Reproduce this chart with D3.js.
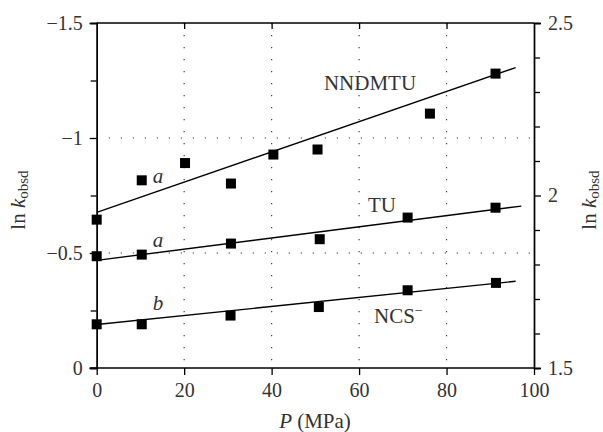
<!DOCTYPE html>
<html>
<head>
<meta charset="utf-8">
<script src="https://cdn.jsdelivr.net/npm/d3@7"></script>
<style>
  body { margin: 0; background: #fff; }
</style>
</head>
<body>
<div id="chart"></div>
<script>
// pressure (MPa) and ln k_obsd
const nndmtuP = [0, 10.3, 20.2, 30.7, 40.4, 50.5, 76.2, 91.2];
const nndmtuLnK = [-0.645, -0.816, -0.891, -0.802, -0.928, -0.95, -1.106, -1.28];
const tuP = [0, 10.3, 30.7, 51, 71.1, 91.2];
const tuLnK = [-0.486, -0.493, -0.541, -0.56, -0.654, -0.697];
const ncsP = [0, 10.3, 30.6, 50.8, 71.1, 91.3];
const ncsLnK = [-0.19, -0.19, -0.228, -0.265, -0.338, -0.37];

// fitted lines: [P start, P end], [lnk start, lnk end]
const nndmtuFitP = [0, 95.8], nndmtuFit = [-0.677, -1.306];
const tuFitP = [0, 97.1], tuFit = [-0.468, -0.704];
const ncsFitP = [0, 95.8], ncsFit = [-0.189, -0.377];

const xTicks = [0, 20, 40, 60, 80, 100];
const yLeftTicks = [0, -0.5, -1, -1.5];
const yLeftMinor = [-0.25, -0.75, -1.25];
const yRightTicks = [1.5, 2, 2.5];
const yRightMinor = [1.6, 1.7, 1.8, 1.9, 2.1, 2.2, 2.3, 2.4];
const xGrid = [20, 40, 60, 80];
const yGrid = [-0.5, -1];

const width = 603, height = 432;
const plotL = 96.7, plotR = 534, plotT = 23, plotB = 368;
const serif = '"Liberation Serif", "Times New Roman", serif';
const ink = "#333";

const svg = d3.select("#chart").append("svg")
    .attr("width", width)
    .attr("height", height);

const x = d3.scaleLinear().domain([0, 100]).range([plotL, plotR]);
const y = d3.scaleLinear().domain([0, -1.5]).range([plotB, plotT]);
const y2 = d3.scaleLinear().domain([1.5, 2.5]).range([plotB, plotT]);

// dotted grid
svg.append("g").selectAll("line").data(xGrid).enter().append("line")
    .attr("x1", d => x(d)).attr("x2", d => x(d))
    .attr("y1", plotT).attr("y2", plotB)
    .attr("stroke", "#444").attr("stroke-width", 1.2)
    .attr("stroke-dasharray", "1.3,10.7");
svg.append("g").selectAll("line").data(yGrid).enter().append("line")
    .attr("x1", plotL).attr("x2", plotR)
    .attr("y1", d => y(d)).attr("y2", d => y(d))
    .attr("stroke", "#444").attr("stroke-width", 1.2)
    .attr("stroke-dasharray", "1.3,10.7");

// axes
const fmt = d => d3.format("")(d).replace("-", "\u2212");

const bottomAxis = svg.append("g")
    .attr("transform", `translate(0,${plotB})`)
    .call(d3.axisBottom(x).tickValues(xTicks).tickSize(7).tickPadding(8).tickFormat(fmt));

const topAxis = svg.append("g")
    .attr("transform", `translate(0,${plotT})`)
    .call(d3.axisBottom(x).tickValues(xGrid).tickSize(6).tickFormat(""));

const leftAxis = svg.append("g")
    .attr("transform", `translate(${plotL},0)`)
    .call(d3.axisLeft(y).tickValues(yLeftTicks).tickSize(7).tickPadding(7).tickFormat(fmt));
svg.append("g")
    .attr("transform", `translate(${plotL},0)`)
    .call(d3.axisLeft(y).tickValues(yLeftMinor).tickSize(6).tickFormat(""));

const rightAxis = svg.append("g")
    .attr("transform", `translate(${plotR},0)`)
    .call(d3.axisRight(y2).tickValues(yRightTicks).tickSize(7).tickPadding(7).tickFormat(fmt));
svg.append("g")
    .attr("transform", `translate(${plotR},0)`)
    .call(d3.axisRight(y2).tickValues(yRightMinor).tickSize(6).tickFormat(""));

svg.selectAll(".domain").attr("stroke", "#000").attr("stroke-width", 1.4);
svg.selectAll(".tick line").attr("stroke", "#000").attr("stroke-width", 1.3);
svg.selectAll(".tick text")
    .style("font-family", serif).style("font-size", "20px").style("fill", ink);
topAxis.select(".domain").remove();
bottomAxis.select(".domain").attr("d", `M${plotL - 7},0H${plotR}`);
svg.append("line")
    .attr("x1", plotL).attr("x2", plotR).attr("y1", plotT).attr("y2", plotT)
    .attr("stroke", "#000").attr("stroke-width", 1.4);

// fitted lines
const line = d3.line().x(d => x(d[0])).y(d => y(d[1]));
[[nndmtuFitP, nndmtuFit], [tuFitP, tuFit], [ncsFitP, ncsFit]].forEach(f => {
    svg.append("path")
        .datum(d3.zip(f[0], f[1]))
        .attr("d", line)
        .attr("fill", "none")
        .attr("stroke", "#000")
        .attr("stroke-width", 1.4);
});

// points
const s = 10;
[[nndmtuP, nndmtuLnK], [tuP, tuLnK], [ncsP, ncsLnK]].forEach(ser => {
    svg.append("g").selectAll("rect")
        .data(d3.zip(ser[0], ser[1]))
        .enter().append("rect")
        .attr("x", d => x(d[0]) - s / 2)
        .attr("y", d => y(d[1]) - s / 2)
        .attr("width", s).attr("height", s)
        .attr("fill", "#000");
});

function label(px, py, size) {
    return svg.append("text").attr("x", px).attr("y", py)
        .style("font-family", serif).style("font-size", size + "px").style("fill", ink);
}

// series labels
label(370, 90, 21).attr("text-anchor", "middle").text("NNDMTU");
label(382, 212, 21).attr("text-anchor", "middle").text("TU");
const ncs = label(374, 323, 21);
ncs.append("tspan").text("NCS");
ncs.append("tspan").style("font-size", "14px").attr("dy", -8).text("\u2212");

[["a", 158, 183], ["a", 158, 247], ["b", 158, 310]].forEach(l => {
    label(l[1], l[2], 21).attr("text-anchor", "middle")
        .style("font-style", "italic").text(l[0]);
});

// axis titles
const xt = label(315, 428, 21).attr("text-anchor", "middle");
xt.append("tspan").style("font-style", "italic").text("P");
xt.append("tspan").text(" (MPa)");

function yTitle(tx) {
    const t = label(0, 0, 21)
        .attr("transform", `translate(${tx},200) rotate(-90)`)
        .attr("text-anchor", "middle");
    t.append("tspan").text("ln ");
    t.append("tspan").style("font-style", "italic").text("k");
    t.append("tspan").style("font-size", "15px").attr("dy", 3).text("obsd");
}
yTitle(25);
yTitle(596);
</script>
</body>
</html>
